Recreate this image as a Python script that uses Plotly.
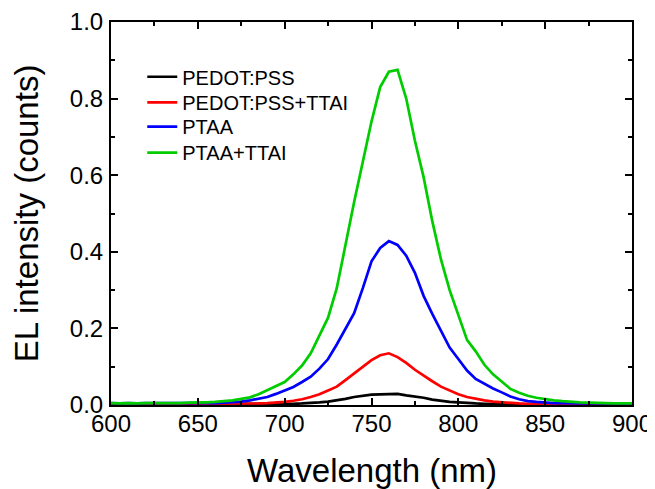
import plotly.graph_objects as go

wavelength = list(range(600, 905, 5))

pedot_pss = [0.002, 0.002, 0.002, 0.002, 0.002, 0.002, 0.002, 0.002, 0.002, 0.002,
             0.002, 0.002, 0.002, 0.002, 0.002, 0.002, 0.002, 0.002, 0.002, 0.002,
             0.002, 0.003, 0.004, 0.005, 0.007, 0.009, 0.012, 0.016, 0.021, 0.025,
             0.027, 0.028, 0.028, 0.029, 0.025, 0.022, 0.019, 0.014, 0.010, 0.008,
             0.007, 0.005, 0.004, 0.003, 0.002, 0.002, 0.002, 0.002, 0.002, 0.002,
             0.002, 0.002, 0.002, 0.002, 0.002, 0.002, 0.002, 0.002, 0.002, 0.002,
             0.002]

pedot_pss_ttai = [0.003, 0.003, 0.003, 0.003, 0.003, 0.003, 0.003, 0.003, 0.003, 0.003,
                  0.003, 0.003, 0.003, 0.003, 0.003, 0.003, 0.003, 0.004, 0.005, 0.006,
                  0.008, 0.011, 0.015, 0.021, 0.028, 0.038, 0.048, 0.065, 0.083, 0.100,
                  0.117, 0.130, 0.135, 0.125, 0.110, 0.092, 0.076, 0.062, 0.048, 0.037,
                  0.028, 0.021, 0.016, 0.012, 0.009, 0.007, 0.005, 0.004, 0.003, 0.003,
                  0.003, 0.003, 0.003, 0.003, 0.003, 0.003, 0.003, 0.003, 0.003, 0.003,
                  0.003]

ptaa = [0.005, 0.004, 0.005, 0.004, 0.005, 0.005, 0.004, 0.005, 0.005, 0.004,
        0.005, 0.005, 0.005, 0.006, 0.007, 0.009, 0.012, 0.016, 0.021, 0.029,
        0.037, 0.047, 0.060, 0.074, 0.095, 0.120, 0.158, 0.200, 0.240, 0.305,
        0.375, 0.410, 0.428, 0.418, 0.390, 0.345, 0.285, 0.238, 0.195, 0.150,
        0.120, 0.090, 0.068, 0.055, 0.043, 0.033, 0.022, 0.015, 0.010, 0.008,
        0.006, 0.005, 0.005, 0.004, 0.004, 0.004, 0.004, 0.004, 0.004, 0.004,
        0.004]

ptaa_ttai = [0.005, 0.004, 0.005, 0.004, 0.005, 0.005, 0.004, 0.005, 0.005, 0.006,
             0.006, 0.007, 0.008, 0.010, 0.012, 0.016, 0.020, 0.028, 0.038, 0.048,
             0.060, 0.080, 0.103, 0.135, 0.180, 0.228, 0.305, 0.420, 0.530, 0.635,
             0.740, 0.830, 0.870, 0.875, 0.800, 0.690, 0.595, 0.480, 0.380, 0.300,
             0.235, 0.170, 0.140, 0.105, 0.080, 0.060, 0.042, 0.032, 0.024, 0.019,
             0.015, 0.012, 0.010, 0.008, 0.007, 0.006, 0.005, 0.005, 0.004, 0.004,
             0.004]

names = ["PEDOT:PSS", "PEDOT:PSS+TTAI", "PTAA", "PTAA+TTAI"]
colors = ["#000000", "#ff0000", "#0000ff", "#00cc00"]
series = [pedot_pss, pedot_pss_ttai, ptaa, ptaa_ttai]
legend_ids = ["legend", "legend2", "legend3", "legend4"]
legend_y = [0.857, 0.790, 0.727, 0.659]
x_title = "Wavelength (nm)"
y_title = "EL intensity (counts)"

FONT = "Liberation Sans, Arial, sans-serif"

fig = go.Figure()
for n, c, s, lg in zip(names, colors, series, legend_ids):
    fig.add_trace(go.Scatter(x=wavelength, y=s, mode="lines", name=n, legend=lg,
                             showlegend=True, line=dict(color=c, width=2.7)))

axis_common = dict(
    showline=True, linecolor="black", linewidth=2, mirror="ticks",
    ticks="inside", ticklen=7, tickwidth=2, tickcolor="black",
    showgrid=False, zeroline=False, automargin=False,
    tickfont=dict(family=FONT, size=24, color="black"),
)

fig.update_xaxes(range=[600, 900], dtick=50, tick0=600, ticklabelstandoff=-4,
                 minor=dict(ticks="inside", ticklen=4, dtick=25, tickwidth=2, tickcolor="black"),
                 **axis_common)
fig.update_yaxes(range=[0, 1.0], dtick=0.2, tick0=0, tickformat=".1f", ticklabelstandoff=1,
                 minor=dict(ticks="inside", ticklen=4, dtick=0.1, tickwidth=2, tickcolor="black"),
                 title=dict(text=y_title, font=dict(family=FONT, size=33, color="black"), standoff=24),
                 **axis_common)

fig.add_annotation(text=x_title, xref="paper", yref="paper", x=0.5, y=0,
                   xanchor="center", yanchor="top", yshift=-45, showarrow=False,
                   font=dict(family=FONT, size=33, color="black"))

legend_style = dict(x=0.060, xanchor="left", yanchor="middle",
                    bgcolor="rgba(0,0,0,0)", font=dict(family=FONT, size=20, color="black"))
layout_legends = {lg: dict(y=yy, **legend_style) for lg, yy in zip(legend_ids, legend_y)}

fig.update_layout(
    width=645, height=481, showlegend=True,
    margin=dict(l=103, r=21, t=14, b=84),
    plot_bgcolor="white", paper_bgcolor="white",
    font=dict(family=FONT, color="black"),
    **layout_legends,
)

fig.write_html("out.html")
